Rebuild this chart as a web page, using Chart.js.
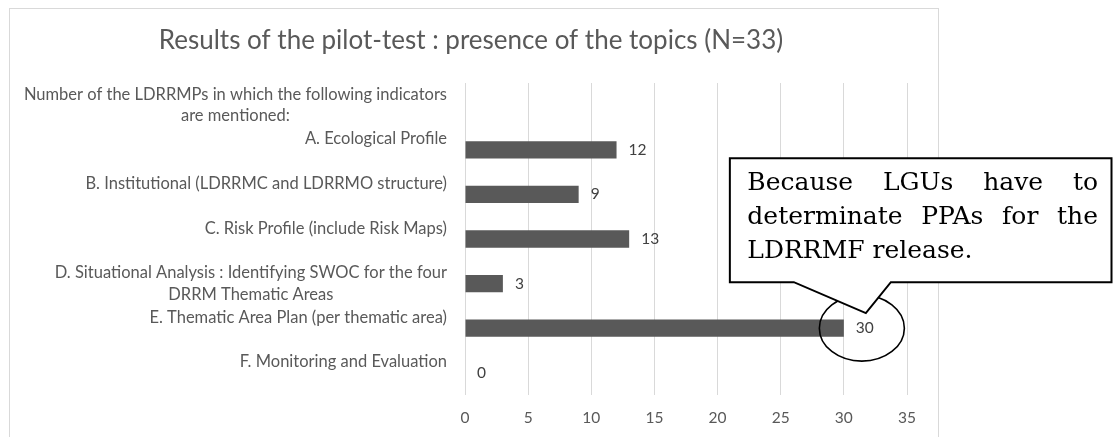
<!DOCTYPE html>
<html>
<head>
<meta charset="utf-8">
<script src="https://cdn.jsdelivr.net/npm/chart.js@4.4.1/dist/chart.umd.min.js"></script>
<style>
  html, body { margin: 0; padding: 0; background: #fff; }
  #wrap { width: 1113px; height: 437px; }
</style>
</head>
<body>
<div id="wrap"><canvas id="topicsChart" width="1113" height="437"></canvas></div>
<script>
// Datos del gráfico
const chartTitle = 'Results of the pilot-test : presence of the topics (N=33)';
const categories = [
  ['Number of the LDRRMPs in which the following indicators', 'are mentioned:'],
  ['A. Ecological Profile', ''],
  ['B. Institutional (LDRRMC and LDRRMO structure)', ''],
  ['C. Risk Profile (include Risk Maps)', ''],
  ['D. Situational Analysis : Identifying SWOC for the four', 'DRRM Thematic Areas'],
  ['E. Thematic Area Plan (per thematic area)', ''],
  ['F. Monitoring and Evaluation', '']
];
const counts = [null, 12, 9, 13, 3, 30, 0];
const xMin = 0;
const xMax = 35;
const xStep = 5;
const calloutLines = ['Because LGUs have to', 'determinate PPAs for the', 'LDRRMF release.'];
const calloutIndex = 5; // barra E

const FONT = 'Lato, "Open Sans", sans-serif';
const GREY = '#595959';

// Marco, título y etiquetas del eje Y
const decorPlugin = {
  id: 'decor',
  beforeDraw(chart) {
    const ctx = chart.ctx;
    ctx.save();
    ctx.fillStyle = '#fff';
    ctx.fillRect(0, 0, chart.width, chart.height);
    ctx.strokeStyle = '#d9d9d9';
    ctx.lineWidth = 1;
    ctx.strokeRect(9.5, 8.5, 929, 440);
    ctx.fillStyle = GREY;
    ctx.font = '26px ' + FONT;
    ctx.textAlign = 'center';
    ctx.textBaseline = 'middle';
    ctx.fillText(chartTitle, 471, 41);
    ctx.restore();
  },
  afterDraw(chart) {
    const ctx = chart.ctx;
    const y = chart.scales.y;
    ctx.save();
    ctx.font = '16.5px ' + FONT;
    ctx.fillStyle = GREY;
    ctx.textAlign = 'center';
    ctx.textBaseline = 'middle';
    const lineH = 21.5;
    const right = chart.chartArea.left - 18;
    categories.forEach((lines, i) => {
      const cy = y.getPixelForTick(i);
      const w = Math.max(...lines.map(l => ctx.measureText(l).width));
      const top = cy - (lines.length - 1) * lineH / 2;
      lines.forEach((l, k) => {
        if (l) ctx.fillText(l, right - w / 2, top + k * lineH);
      });
    });

    // etiquetas de valores
    const meta = chart.getDatasetMeta(0);
    ctx.font = '15.5px ' + FONT;
    ctx.fillStyle = '#404040';
    ctx.textAlign = 'left';
    meta.data.forEach((bar, i) => {
      if (counts[i] === null) return;
      ctx.fillText(String(counts[i]), bar.x + 12, bar.y);
    });

    // elipse y globo de texto
    const bar = meta.data[calloutIndex];
    const ax = bar.x, ay = bar.y;
    ctx.strokeStyle = '#000';
    ctx.lineWidth = 1.6;
    ctx.beginPath();
    ctx.ellipse(ax + 18, ay, 42.5, 33, 0, 0, Math.PI * 2);
    ctx.stroke();

    const bl = ax - 114, br = chart.width - 1.5, bt = ay - 170, bb = ay - 46;
    ctx.beginPath();
    ctx.moveTo(bl, bt);
    ctx.lineTo(br, bt);
    ctx.lineTo(br, bb);
    ctx.lineTo(ax + 47, bb);
    ctx.lineTo(ax + 22, ay - 15);
    ctx.lineTo(ax - 50, bb);
    ctx.lineTo(bl, bb);
    ctx.closePath();
    ctx.fillStyle = '#fff';
    ctx.fill();
    ctx.lineWidth = 2;
    ctx.stroke();

    ctx.fillStyle = '#000';
    ctx.font = '25px "DejaVu Serif", serif';
    ctx.textBaseline = 'alphabetic';
    ctx.textAlign = 'left';
    const tl = bl + 17.5, tr = br - 13.5;
    calloutLines.forEach((line, k) => {
      const by = bt + 32 + k * 33.7;
      const words = line.split(' ');
      if (k === calloutLines.length - 1) {
        ctx.fillText(line, tl, by);
        return;
      }
      const total = words.reduce((s, wd) => s + ctx.measureText(wd).width, 0);
      const gap = (tr - tl - total) / (words.length - 1);
      let x = tl;
      words.forEach(wd => {
        ctx.fillText(wd, x, by);
        x += ctx.measureText(wd).width + gap;
      });
    });
    ctx.restore();
  }
};

new Chart(document.getElementById('topicsChart'), {
  type: 'bar',
  data: {
    labels: categories,
    datasets: [{
      data: counts,
      backgroundColor: GREY,
      borderWidth: 0,
      categoryPercentage: 1,
      barPercentage: 0.39
    }]
  },
  options: {
    indexAxis: 'y',
    responsive: false,
    animation: false,
    events: [],
    layout: { padding: { top: 83, right: 206, left: 0, bottom: 0 } },
    plugins: {
      legend: { display: false },
      title: { display: false },
      tooltip: { enabled: false }
    },
    scales: {
      x: {
        min: xMin,
        max: xMax,
        ticks: { stepSize: xStep, color: GREY, font: { family: FONT, size: 15.5 }, padding: 14 },
        grid: { color: '#d9d9d9', drawTicks: false },
        border: { display: false },
        afterFit(scale) { scale.height = 42; }
      },
      y: {
        ticks: { display: false },
        grid: { display: false },
        border: { display: false },
        afterFit(scale) { scale.width = 465; }
      }
    }
  },
  plugins: [decorPlugin]
});
</script>
</body>
</html>
